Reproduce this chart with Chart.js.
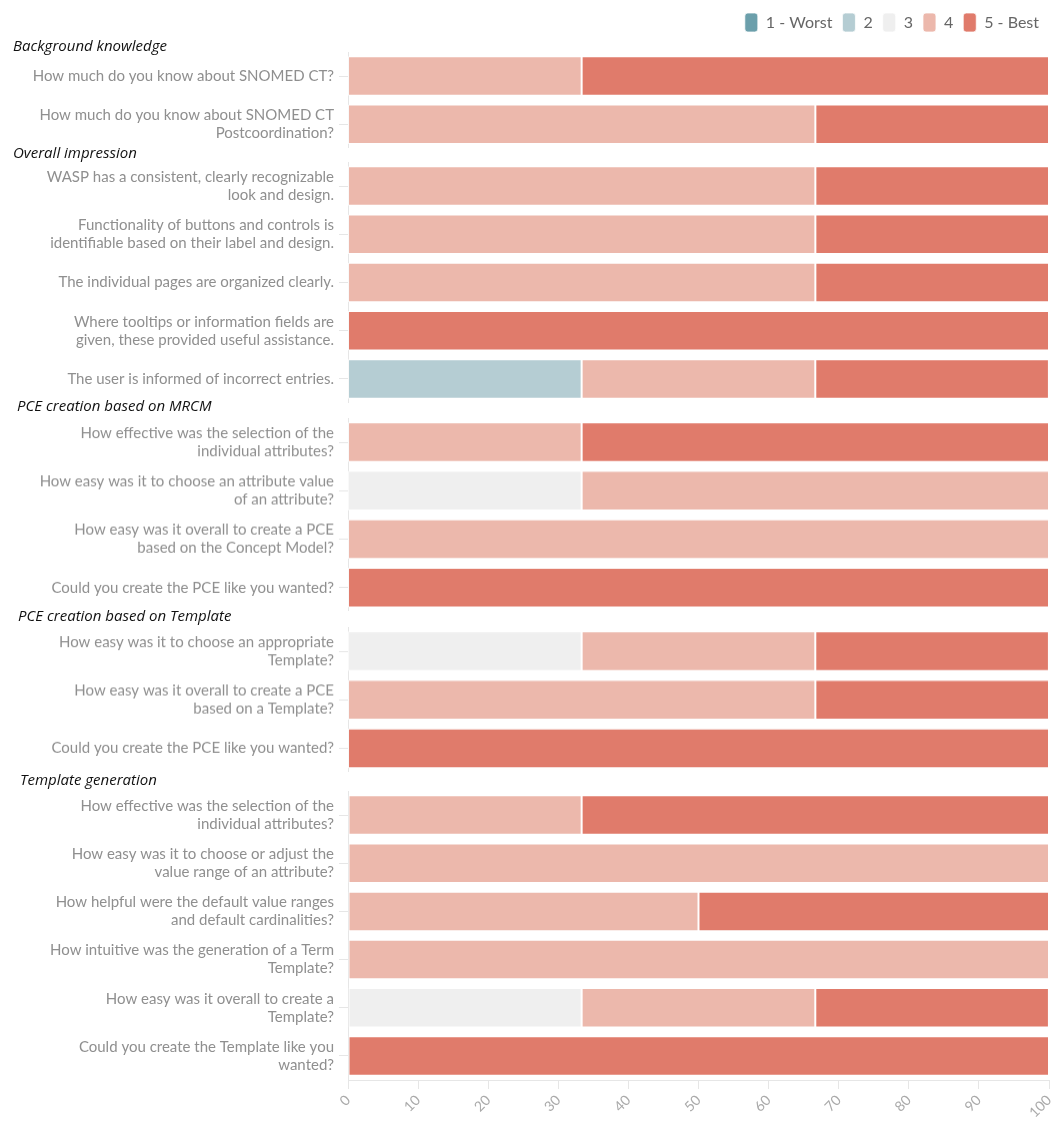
<!DOCTYPE html>
<html><head><meta charset="utf-8">
<script src="https://cdn.jsdelivr.net/npm/chart.js@4/dist/chart.umd.min.js"></script>
<style>
html,body{margin:0;padding:0;background:#fff;}
body{width:1058px;height:1121px;position:relative;overflow:hidden;}
.box{position:absolute;left:0;width:1058px;}
.hdr{position:absolute;font-family:"Open Sans";font-style:italic;font-size:15px;color:#111;line-height:20px;white-space:nowrap;}
</style></head><body>
<script>
// ---- data ----
const sectionTitles = ['Background knowledge','Overall impression','PCE creation based on MRCM','PCE creation based on Template','Template generation'];
const questionLabels = [
  'How much do you know about SNOMED CT?',
  ['How much do you know about SNOMED CT','Postcoordination?'],
  ['WASP has a consistent, clearly recognizable','look and design.'],
  ['Functionality of buttons and controls is','identifiable based on their label and design.'],
  'The individual pages are organized clearly.',
  ['Where tooltips or information fields are','given, these provided useful assistance.'],
  'The user is informed of incorrect entries.',
  ['How effective was the selection of the','individual attributes?'],
  ['How easy was it to choose an attribute value','of an attribute?'],
  ['How easy was it overall to create a PCE','based on the Concept Model?'],
  'Could you create the PCE like you wanted?',
  ['How easy was it to choose an appropriate','Template?'],
  ['How easy was it overall to create a PCE','based on a Template?'],
  'Could you create the PCE like you wanted?',
  ['How effective was the selection of the','individual attributes?'],
  ['How easy was it to choose or adjust the','value range of an attribute?'],
  ['How helpful were the default value ranges','and default cardinalities?'],
  ['How intuitive was the generation of a Term','Template?'],
  ['How easy was it overall to create a','Template?'],
  ['Could you create the Template like you','wanted?']
];
const questionSection = [0,0,1,1,1,1,1,2,2,2,2,3,3,3,4,4,4,4,4,4];
const seriesNames = ['1 - Worst','2','3','4','5 - Best'];
const worstValues = [0,0,0,0,0,0,0,0,0,0,0,0,0,0,0,0,0,0,0,0];
const twoValues   = [0,0,0,0,0,0,33.33,0,0,0,0,0,0,0,0,0,0,0,0,0];
const threeValues = [0,0,0,0,0,0,0,0,33.33,0,0,33.33,0,0,0,0,0,0,33.33,0];
const fourValues  = [33.33,66.67,66.67,66.67,66.67,0,33.33,33.33,66.67,100,0,33.33,66.67,0,33.33,100,50,100,33.33,0];
const bestValues  = [66.67,33.33,33.33,33.33,33.33,100,33.33,66.67,0,0,100,33.33,33.33,100,66.67,0,50,0,33.33,100];
const xTickValues = [0,10,20,30,40,50,60,70,80,90,100];

// ---- styling / layout ----
const seriesColors = ['#6b9fab','#b5cdd3','#efefef','#ecb8ac','#e07b6b'];
const seriesValues = [worstValues,twoValues,threeValues,fourValues,bestValues];
const PITCH = 48.2;
const sectionLayout = [
  {hdrX:13, hdrY:45, top:52},
  {hdrX:13, hdrY:152, top:162},
  {hdrX:17, hdrY:405, top:418},
  {hdrX:18, hdrY:615, top:627},
  {hdrX:20, hdrY:779, top:791}
];
const AXIS_W = 348, LEGEND_H = 49, XAXIS_H = 41, PAD_R = 9;
const labelFont = {family:'Lato', size:15};
const gridColor = '#e6e6e6';

Chart.defaults.animation = false;

const legendHeightPlugin = {
  id:'legendHeight',
  beforeLayout(chart){
    const lg = chart.legend;
    if (lg && !lg._patched){
      const orig = lg.fit;
      lg.fit = function(){ orig.call(this); this.height = LEGEND_H; };
      lg._patched = true;
    }
  }
};

sectionTitles.forEach((title, sec) => {
  const lay = sectionLayout[sec];
  const idx = questionSection.map((s,i)=> s===sec ? i : -1).filter(i=>i>=0);
  const n = idx.length;
  const first = sec === 0, last = sec === sectionTitles.length-1;
  const boxTop = first ? 0 : lay.top;
  const boxH = last ? (1121 - lay.top) : (lay.top - boxTop + n*PITCH);

  const hdr = document.createElement('div');
  hdr.className = 'hdr';
  hdr.style.left = lay.hdrX + 'px';
  hdr.style.top = (lay.hdrY - 10) + 'px';
  hdr.textContent = title;

  const box = document.createElement('div');
  box.className = 'box';
  box.style.top = boxTop + 'px';
  box.style.height = boxH + 'px';
  const cv = document.createElement('canvas');
  box.appendChild(cv);
  document.body.appendChild(box);
  document.body.appendChild(hdr);

  const datasets = seriesNames.map((name, k) => ({
    label: name,
    data: idx.map(i => seriesValues[k][i]),
    backgroundColor: seriesColors[k],
    borderColor: 'rgba(255,255,255,0.75)',
    borderWidth: 1,
    borderSkipped: false,
    barPercentage: 0.82,
    categoryPercentage: 1
  }));

  new Chart(cv, {
    type:'bar',
    data:{ labels: idx.map(i => questionLabels[i]), datasets },
    plugins: first ? [legendHeightPlugin] : [],
    options:{
      indexAxis:'y',
      responsive:true,
      maintainAspectRatio:false,
      layout:{ padding:{ top: first ? 3 : 0, right: PAD_R, left:0, bottom:0 } },
      plugins:{
        tooltip:{enabled:false},
        legend:{
          display:first,
          position:'top',
          align:'end',
          labels:{
            boxWidth:13, boxHeight:19, padding:10,
            useBorderRadius:true, borderRadius:3,
            color:'#666', font:{family:'Lato', size:16}
          }
        }
      },
      scales:{
        x:{
          stacked:true, min:0, max:100,
          display:last,
          grid:{drawOnChartArea:false, color:gridColor, tickLength:9},
          border:{display:true, color:gridColor},
          afterBuildTicks(s){ s.ticks = xTickValues.map(v=>({value:v})); },
          ticks:{ color:'#aaa', font:{family:'Lato', size:14}, minRotation:45, maxRotation:45, padding:3, autoSkip:false },
          afterFit(s){ if (s.options.display) { s.height = XAXIS_H; } s.paddingLeft = 0; s.paddingRight = 0; }
        },
        y:{
          stacked:true,
          grid:{drawOnChartArea:false, color:gridColor, tickLength:9, offset:false},
          border:{display:true, color:gridColor},
          ticks:{ color:'#8f8f8f', font:labelFont, padding:5, autoSkip:false },
          afterFit(s){ s.width = AXIS_W; s.paddingTop = 0; s.paddingBottom = 0; }
        }
      }
    }
  });
});
</script>
</body></html>
